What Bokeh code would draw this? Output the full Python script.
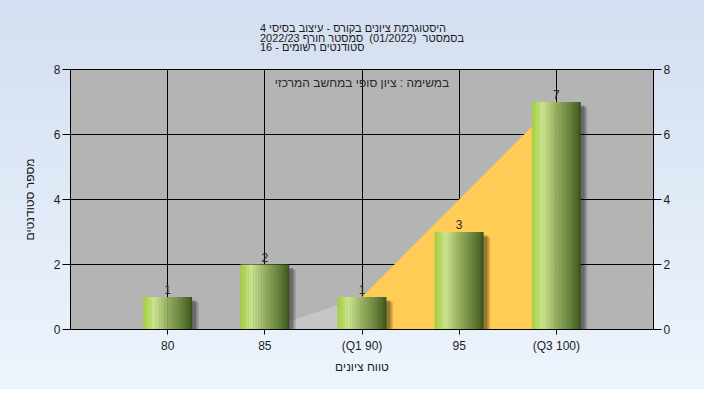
from bokeh.plotting import figure
from bokeh.models import FixedTicker, LinearAxis, Label, Range1d, Title
from bokeh.core.properties import value
from bokeh.embed import file_html
from bokeh.resources import INLINE

# ---- data ----
categories = ["80", "85", "(Q1 90)", "95", "(Q3 100)"]
counts = [1, 2, 1, 3, 7]
lower_area_cats = ["80", "85", "(Q1 90)"]
lower_area_vals = [0, 0, 1]
iqr_area_cats = ["(Q1 90)", "95", "(Q3 100)"]
iqr_area_vals = [1, 4, 7]
y_ticks = [0, 2, 4, 6, 8]

title_lines = [
    "היסטוגרמת ציונים בקורס - עיצוב בסיסי 4",
    "בסמסטר\u00a0 (01/2022)\u00a0 סמסטר חורף 2022/23",
    "סטודנטים רשומים - 16",
]
subtitle = "במשימה : ציון סופי במחשב המרכזי"
x_label = "טווח ציונים"
y_label = "מספר סטודנטים"

FONT = "Liberation Sans"
TXT = "#1c1c1c"

idx = {c: i for i, c in enumerate(categories)}

p = figure(width=704, height=389, x_range=Range1d(-1, 5), y_range=Range1d(0, 8),
           output_backend="svg", toolbar_location=None,
           min_border_left=70, min_border_right=51, min_border_top=69, min_border_bottom=60)

p.styles = {"background-image": "linear-gradient(to bottom, #d3def0, #edf4fc)"}
p.border_fill_alpha = 0
p.background_fill_color = "#b4b4b4"
p.outline_line_color = "black"

p.title = Title(text="\n".join(title_lines), align="center",
                text_font=FONT, text_font_size="11px", text_font_style="normal",
                text_color=TXT, text_line_height=0.82, standoff=32)

p.varea(x=[idx[c] for c in lower_area_cats], y1=0, y2=lower_area_vals, fill_color="#c6c6c6")
p.varea(x=[idx[c] for c in iqr_area_cats], y1=0, y2=iqr_area_vals, fill_color="#ffcc55")

bar_w = 0.5
xi = list(range(len(categories)))
for ox, oy, a in [(0.07, 0.16, 0.12), (0.055, 0.13, 0.16), (0.04, 0.1, 0.2)]:
    p.vbar(x=[i + ox for i in xi], top=[c - oy for c in counts], bottom=0, width=bar_w,
           fill_color="black", fill_alpha=a, line_color=None)

stops = [(0.0, (160, 206, 56)), (0.22, (204, 230, 144)), (0.5, (150, 176, 96)),
         (0.8, (98, 128, 56)), (0.97, (70, 94, 32)), (1.0, (50, 62, 24))]


def interp(t):
    for (t0, c0), (t1, c1) in zip(stops[:-1], stops[1:]):
        if t0 <= t <= t1:
            f = (t - t0) / (t1 - t0)
            return "#%02x%02x%02x" % tuple(int(round(a + (b - a) * f)) for a, b in zip(c0, c1))
    return "#%02x%02x%02x" % stops[-1][1]


N = 30
xs, tops, cols = [], [], []
for i, c in zip(xi, counts):
    for k in range(N):
        t = (k + 0.5) / N
        xs.append(i - bar_w / 2 + t * bar_w)
        tops.append(c)
        cols.append(interp(t))
p.vbar(x=xs, top=tops, bottom=0, width=bar_w / N * 1.2, fill_color=cols, line_color=None)

p.text(x=xi, y=counts, text=[str(c) for c in counts], text_align="center",
       text_baseline="bottom", y_offset=-3, text_font=value(FONT), text_font_size="12px",
       text_color="#2a2a2a")

p.add_layout(Label(x=2, y=8, text=subtitle, text_align="center",
                   text_baseline="top", y_offset=-6, text_font=FONT, text_font_size="12px",
                   text_color="#2a2a2a"))

p.xaxis.ticker = FixedTicker(ticks=xi)
p.xaxis.major_label_overrides = {i: c for i, c in zip(xi, categories)}
p.yaxis.ticker = FixedTicker(ticks=y_ticks)
p.add_layout(LinearAxis(ticker=FixedTicker(ticks=y_ticks)), "right")

for ax in p.axis:
    ax.axis_line_color = "black"
    ax.major_tick_line_color = "black"
    ax.minor_tick_line_color = None
    ax.major_tick_in = 0
    ax.major_label_text_font = FONT
    ax.major_label_text_font_size = "12px"
    ax.major_label_text_color = TXT
    ax.axis_label_text_font = FONT
    ax.axis_label_text_font_size = "12px"
    ax.axis_label_text_font_style = "normal"
    ax.axis_label_text_color = TXT

p.xaxis.major_tick_out = 5
p.xaxis.major_label_standoff = 4
p.xaxis.axis_label = x_label
p.xaxis.axis_label_standoff = 4
for ax in p.left + p.right:
    ax.major_tick_out = 8
    ax.major_label_standoff = 2
p.left[0].axis_label = y_label
p.left[0].axis_label_standoff = 14

p.xgrid.ticker = FixedTicker(ticks=xi)
p.ygrid.ticker = FixedTicker(ticks=y_ticks)
p.grid.grid_line_color = "black"
p.grid.grid_line_alpha = 1

open("out.html", "w").write(file_html(p, INLINE))
